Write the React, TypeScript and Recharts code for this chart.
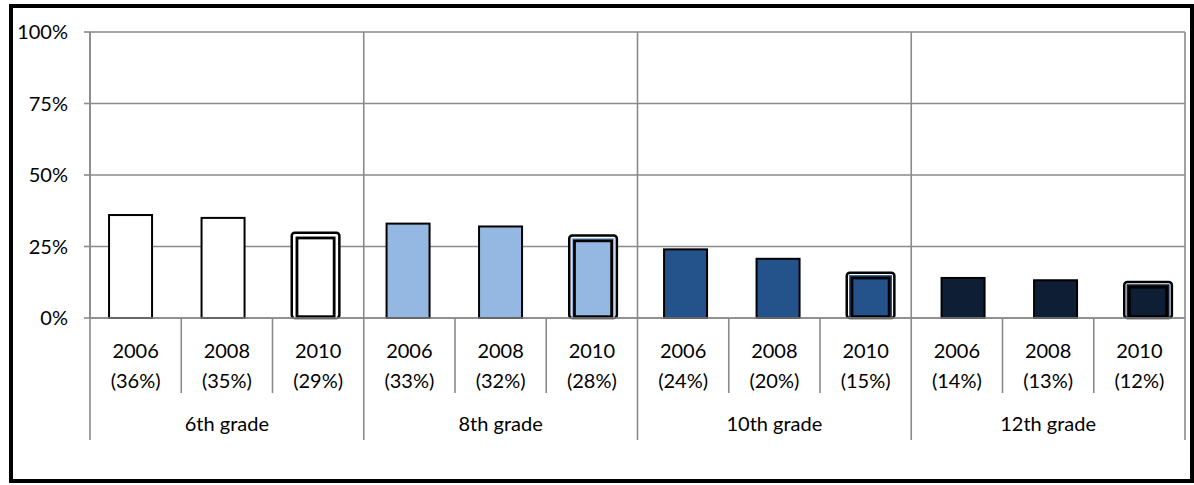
import React from 'react';
import { BarChart, Bar, XAxis, YAxis, CartesianGrid } from 'recharts';

// ---- data ----
const grades = ['6th grade', '8th grade', '10th grade', '12th grade'];
const years = ['2006', '2008', '2010'];
const values6th = [36, 35, 29];
const values8th = [33, 32, 28];
const values10th = [24, 20.7, 15];
const values12th = [14, 13.2, 11.8];
const labels6th = ['36%', '35%', '29%'];
const labels8th = ['33%', '32%', '28%'];
const labels10th = ['24%', '20%', '15%'];
const labels12th = ['14%', '13%', '12%'];
const yTicks = [0, 25, 50, 75, 100];
const gradeColors = ['#FFFFFF', '#95B8E2', '#24528A', '#0E1E34'];

const valueSets = [values6th, values8th, values10th, values12th];
const labelSets = [labels6th, labels8th, labels10th, labels12th];

const table = grades.flatMap((g, gi) =>
  years.map((yr, yi) => ({
    key: `${g}-${yr}`,
    grade: gi,
    gradeName: g,
    year: yr,
    label: `(${labelSets[gi][yi]})`,
    value: valueSets[gi][yi],
    idx: gi * 3 + yi,
  }))
);

// ---- layout ----
const CHART_W = 1194;
const CHART_H = 485;
const M_TOP = 32;
const M_RIGHT = 9;
const Y_W = 90;
const X_H = 167;
const PLOT_H = CHART_H - M_TOP - X_H;
const PLOT_W = CHART_W - Y_W - M_RIGHT;
const SLOT = PLOT_W / table.length;
const GRID = '#8A8A8A';
const FONT = 'Lato, "Open Sans", sans-serif';

const CatTick = (props: any) => {
  const { x, y, index } = props;
  const d = table[index];
  if (!d) return null;
  const left = x - SLOT / 2;
  const right = x + SLOT / 2;
  const isGroupStart = index % 3 === 0;
  return (
    <g>
      {isGroupStart ? (
        <line x1={left} x2={left} y1={y - PLOT_H} y2={y + 122} stroke={GRID} strokeWidth={1.6} />
      ) : (
        <line x1={left} x2={left} y1={y} y2={y + 75} stroke={GRID} strokeWidth={1.6} />
      )}
      {index === table.length - 1 && (
        <line x1={right} x2={right} y1={y - PLOT_H} y2={y + 122} stroke={GRID} strokeWidth={1.6} />
      )}
      <text x={x} y={y + 39.7} textAnchor="middle" fontFamily={FONT} fontSize={20} fill="#000">
        {d.year}
      </text>
      <text x={x} y={y + 70.3} textAnchor="middle" fontFamily={FONT} fontSize={20} fill="#000">
        {d.label}
      </text>
      {index % 3 === 1 && (
        <text x={x} y={y + 113} textAnchor="middle" fontFamily={FONT} fontSize={20} fill="#000">
          {d.gradeName}
        </text>
      )}
    </g>
  );
};

const BarShape = (p: any) => {
  const { x, y, width: w, height: h, payload } = p;
  const fill = gradeColors[payload.grade];
  if (payload.year !== '2010') {
    return <rect x={x} y={y} width={w} height={h} fill={fill} stroke="#000" strokeWidth={2} />;
  }
  return (
    <g>
      <rect x={x - 2.3} y={y - 2.3} width={w + 4.6} height={h + 2.3} rx={3} ry={3} fill="#fff" stroke="#000" strokeWidth={2.5} />
      <rect x={x} y={y} width={w} height={h} fill={fill} />
      <rect x={x + 2.9} y={y + 2.9} width={w - 5.8} height={Math.max(0, h - 4.2)} fill={fill} stroke="#000" strokeWidth={2.8} />
    </g>
  );
};

export default function App() {
  return (
    <div style={{ position: 'fixed', left: 0, top: 0, width: CHART_W, height: CHART_H, background: '#fff' }}>
      <BarChart
        width={CHART_W}
        height={CHART_H}
        data={table}
        margin={{ top: M_TOP, right: M_RIGHT, bottom: 0, left: 0 }}
      >
        <CartesianGrid xAxisId="cat" vertical={false} stroke={GRID} strokeWidth={1.6} />
        <XAxis
          xAxisId="bars"
          dataKey="idx"
          type="number"
          domain={[-0.4357, 11.402]}
          allowDataOverflow
          height={0}
          hide
        />
        <XAxis
          xAxisId="cat"
          dataKey="key"
          type="category"
          height={X_H}
          interval={0}
          tickSize={0}
          tickMargin={0}
          tickLine={false}
          axisLine={{ stroke: GRID, strokeWidth: 1.6 }}
          tick={<CatTick />}
        />
        <YAxis
          width={Y_W}
          domain={[0, 100]}
          ticks={yTicks}
          interval={0}
          tickFormatter={(v: number) => `${v}%`}
          tickSize={6}
          tickMargin={16}
          tickLine={{ stroke: GRID, strokeWidth: 1.6 }}
          axisLine={{ stroke: GRID, strokeWidth: 1.6 }}
          tick={{ fontFamily: FONT, fontSize: 20, fill: '#000' }}
        />
        <Bar xAxisId="bars" dataKey="value" barSize={43} isAnimationActive={false} shape={<BarShape />} />
      </BarChart>
      <div
        style={{
          position: 'absolute',
          left: 9,
          top: 4,
          width: CHART_W - 9,
          height: 479,
          border: '4px solid #000',
          boxSizing: 'border-box',
          pointerEvents: 'none',
        }}
      />
    </div>
  );
}
